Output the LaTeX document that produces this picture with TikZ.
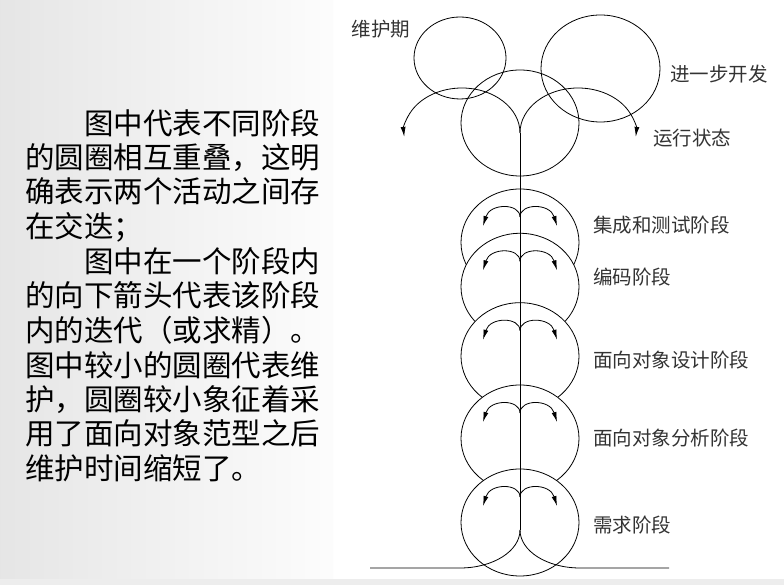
\documentclass[tikz,border=0pt]{standalone}
\usepackage{fontspec}
\newfontfamily\cjk{Noto Sans CJK SC}
\usetikzlibrary{shapes.geometric,arrows.meta}

\tikzset{
  phase/.style={ellipse, draw, inner sep=0pt},
  stage/.style={ellipse, draw, fill=white, inner sep=0pt, minimum width=118pt, minimum height=107pt},
  lbl/.style={font=\cjk\fontsize{19.5}{20}\selectfont, text=black!80, inner sep=0pt},
  body/.style={font=\cjk\fontsize{29.5}{31}\selectfont, inner sep=0pt, anchor=base west},
  iter/.style={-{Latex[length=10pt,width=5pt]}},
}

\begin{document}
\begin{tikzpicture}[x=1pt, y=1pt, line width=0.8pt]
\useasboundingbox (0,0) rectangle (784,585);

% background
\fill[white] (0,0) rectangle (784,585);
\shade[left color=black!10, right color=black!1] (0,6) rectangle (333,585);
\fill[black!7] (0,0) rectangle (784,6);

% text on the left
\node[body] (t1) at (25,450) {\hspace*{2em}图中代表不同阶段};
\node[body] (t2) at (25,416) {的圆圈相互重叠，这明};
\node[body] (t3) at (25,382) {确表示两个活动之间存};
\node[body] (t4) at (25,347) {在交迭；};
\node[body] (t5) at (25,312) {\hspace*{2em}图中在一个阶段内};
\node[body] (t6) at (25,278) {的向下箭头代表该阶段};
\node[body] (t7) at (25,243) {内的迭代（或求精）。};
\node[body] (t8) at (25,208) {图中较小的圆圈代表维};
\node[body] (t9) at (25,174) {护，圆圈较小象征着采};
\node[body] (t10) at (25,140) {用了面向对象范型之后};
\node[body] (t11) at (25,105) {维护时间缩短了。};

% upper circles
\node[phase, minimum width=92pt, minimum height=82pt] (maint) at (460,527) {};
\node[phase, minimum width=119pt, minimum height=107pt] (dev) at (600.5,516.5) {};
\node[phase, minimum width=118pt, minimum height=106pt] (run) at (520,462) {};

% stages, lower one on top
\node[stage] (integ) at (520,342.5) {};
\node[stage] (code) at (520,298.2) {};
\node[stage] (design) at (520,228.8) {};
\node[stage] (analysis) at (520,146.5) {};
\node[stage] (req) at (520,62.5) {};

% main line
\coordinate (top) at (520,452);
\coordinate (bot) at (520,55);
\draw (top) -- (bot);

% fountain top
\draw[iter] (top) arc[start angle=0, end angle=185, x radius=58, y radius=45];
\draw[iter] (top) arc[start angle=180, end angle=-5, x radius=58, y radius=45];

% iteration inside each stage
\foreach \s in {integ,code,design,analysis,req}{
  \draw[iter] ([yshift=25.5pt]\s.center) .. controls ([shift={(0pt,39.5pt)}]\s.center) and ([shift={(-30pt,39.5pt)}]\s.center) .. ([shift={(-37pt,16.5pt)}]\s.center);
  \draw[iter] ([yshift=25.5pt]\s.center) .. controls ([shift={(0pt,39.5pt)}]\s.center) and ([shift={(30pt,39.5pt)}]\s.center) .. ([shift={(37pt,16.5pt)}]\s.center);
}

% base
\coordinate (baseL) at (370,17);
\coordinate (baseR) at (669,17);
\draw (baseL) -- (460,17) arc[start angle=270, end angle=360, x radius=60, y radius=38];
\draw (bot) arc[start angle=180, end angle=270, x radius=60, y radius=38] -- (baseR);

% labels
\node[lbl] (lmaint) at (381,556) {维护期};
\node[lbl] (ldev) at (719,511) {进一步开发};
\node[lbl] (lrun) at (692,447) {运行状态};
\node[lbl, anchor=west] (linteg) at (593,360) {集成和测试阶段};
\node[lbl, anchor=west] (lcode) at (593,308) {编码阶段};
\node[lbl, anchor=west] (ldesign) at (593,225) {面向对象设计阶段};
\node[lbl, anchor=west] (lanalysis) at (593,147) {面向对象分析阶段};
\node[lbl, anchor=west] (lreq) at (593,60) {需求阶段};

\end{tikzpicture}
\end{document}
